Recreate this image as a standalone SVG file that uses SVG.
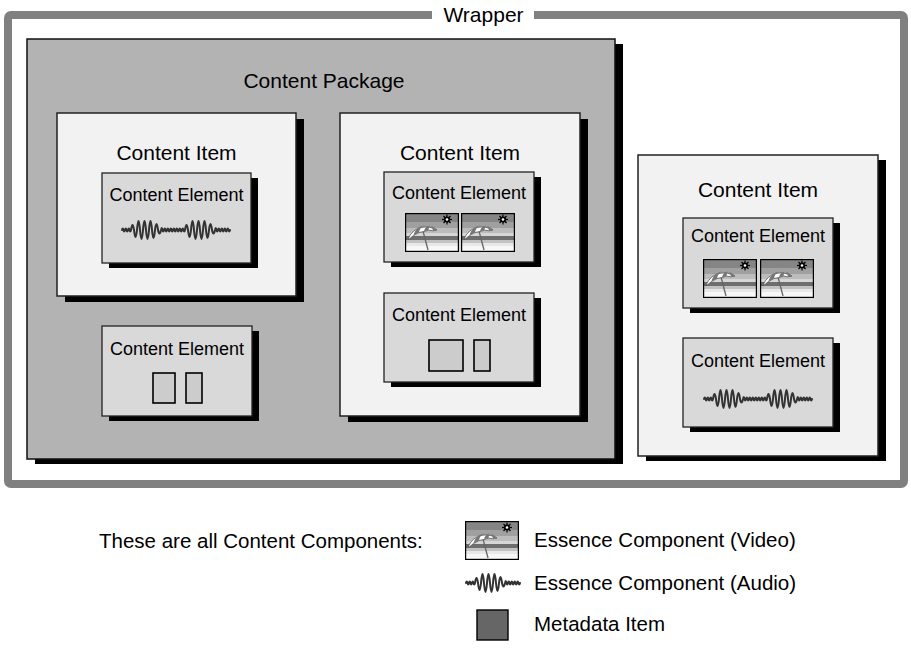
<svg xmlns="http://www.w3.org/2000/svg" xmlns:xlink="http://www.w3.org/1999/xlink" width="911" height="653" viewBox="0 0 911 653">
  <style>
    text { font-family: "Liberation Sans", Arial, Helvetica, sans-serif; fill: #000; }
    .t21 { font-size: 21px; text-anchor: middle; }
    .t18 { font-size: 18px; text-anchor: middle; }
    .leg { font-size: 20.5px; }
    .sh { fill: #000; }
    .pkg { fill: #b3b3b3; stroke: #111; stroke-width: 1.5; }
    .item { fill: #f2f2f2; stroke: #222; stroke-width: 1.5; }
    .elem { fill: #d9d9d9; stroke: #222; stroke-width: 1.3; }
    .meta { fill: #cccccc; stroke: #000; stroke-width: 1.6; }
    .wave { fill: none; stroke: #333; stroke-width: 2; stroke-linejoin: round; stroke-linecap: round; }
  </style>
  <defs>
    <!-- one burst of the audio waveform, 54 wide, centred on y=0 -->
    <path id="burst" class="wave" d="M0,0 q0.75,-3 1.5,0 q0.75,3 1.5,0 q0.75,-3 1.5,0 q0.75,3 1.5,0 q0.75,-3 1.5,0 q0.75,3 1.5,0 q1.5,-10 3,0 q1.5,14 3,0 q1.5,-18 3,0 q1.5,18 3,0 q1.5,-18 3,0 q1.5,18 3,0 q1.5,-18 3,0 q1.5,16 3,0 q1.5,-12 3,0 q1.5,7 3,0 q0.75,-4 1.5,0 q0.75,3 1.5,0 q0.75,-3 1.5,0 q0.75,3 1.5,0 q0.75,-3 1.5,0 q0.75,3 1.5,0 q0.75,-3 1.5,0 q0.75,3 1.5,0 q0.75,-3 1.5,0 q0.75,3 1.5,0"/>
    <!-- two bursts back to back -->
    <path id="wave2" class="wave" d="M0,0 q0.75,-3 1.5,0 q0.75,3 1.5,0 q0.75,-3 1.5,0 q0.75,3 1.5,0 q0.75,-3 1.5,0 q0.75,3 1.5,0 q1.5,-10 3,0 q1.5,14 3,0 q1.5,-18 3,0 q1.5,18 3,0 q1.5,-18 3,0 q1.5,18 3,0 q1.5,-18 3,0 q1.5,16 3,0 q1.5,-12 3,0 q1.5,7 3,0 q0.75,-4 1.5,0 q0.75,3 1.5,0 q0.75,-3 1.5,0 q0.75,3 1.5,0 q0.75,-3 1.5,0 q0.75,3 1.5,0 q0.75,-3 1.5,0 q0.75,3 1.5,0 q0.75,-3 1.5,0 q0.75,3 1.5,0 q0.75,-3 1.5,0 q0.75,3 1.5,0 q0.75,-3 1.5,0 q0.75,3 1.5,0 q0.75,-3 1.5,0 q0.75,3 1.5,0 q1.5,-10 3,0 q1.5,14 3,0 q1.5,-18 3,0 q1.5,18 3,0 q1.5,-18 3,0 q1.5,18 3,0 q1.5,-18 3,0 q1.5,16 3,0 q1.5,-12 3,0 q1.5,7 3,0 q0.75,-4 1.5,0 q0.75,3 1.5,0 q0.75,-3 1.5,0 q0.75,3 1.5,0 q0.75,-3 1.5,0 q0.75,3 1.5,0 q0.75,-3 1.5,0 q0.75,3 1.5,0 q0.75,-3 1.5,0 q0.75,3 1.5,0"/>
    <!-- beach picture used for video essence -->
    <g id="video">
      <rect x="0" y="0" width="54" height="39" fill="#f4f4f4"/>
      <rect x="0" y="0" width="54" height="9" fill="#858585"/>
      <rect x="0" y="9" width="54" height="6" fill="#a0a0a0"/>
      <rect x="0" y="15" width="54" height="5" fill="#bcbcbc"/>
      <rect x="0" y="20" width="54" height="3" fill="#d6d6d6"/>
      <rect x="0" y="23" width="54" height="4" fill="#6e6e6e"/>
      <rect x="0" y="27" width="54" height="3" fill="#c2c2c2"/>
      <rect x="0" y="30" width="54" height="3" fill="#e8e8e8"/>
      <rect x="0" y="33" width="54" height="6" fill="#f7f7f7"/>
      <!-- sun -->
      <g stroke="#000" stroke-width="1.2">
        <line x1="37" y1="6.5" x2="47" y2="6.5"/>
        <line x1="42" y1="1.5" x2="42" y2="11.5"/>
        <line x1="38.5" y1="3" x2="45.5" y2="10"/>
        <line x1="38.5" y1="10" x2="45.5" y2="3"/>
      </g>
      <circle cx="42" cy="6.5" r="3" fill="#000"/>
      <circle cx="42" cy="6.5" r="1.3" fill="#fff"/>
      <!-- umbrella -->
      <line x1="18" y1="18" x2="23" y2="37" stroke="#666" stroke-width="1.3"/>
      <path d="M3,27 C6,16 19,10 32,17 L28,17.8 L23.5,17 L19,18.5 L14,19.5 L8.5,22.5 Z" fill="#fff" stroke="#444" stroke-width="0.7"/>
      <path d="M8.5,22.5 L14,19.5 C14.5,16 16.5,13.5 19,12.5 C13,13.5 9.5,17.5 8.5,22.5 Z" fill="#777"/>
      <path d="M19,18.5 L23.5,17 C24,14.5 24.5,13 24.5,12.5 C21.5,13 19.5,15.5 19,18.5 Z" fill="#777"/>
      <path d="M28,17.8 L32,17 C30,14.5 28,13.5 26,13 C27,14.5 27.8,16 28,17.8 Z" fill="#777"/>
      <rect x="0.6" y="0.6" width="52.8" height="37.8" fill="none" stroke="#000" stroke-width="1.2"/>
    </g>
  </defs>

  <!-- wrapper frame -->
  <g id="wrapper">
    <rect x="8" y="15" width="896" height="469" rx="3" fill="#fff" stroke="#808080" stroke-width="8"/>
    <rect x="432" y="8" width="102" height="14" fill="#fff"/>
    <text class="t21" x="483.5" y="22">Wrapper</text>
  </g>

  <!-- content package -->
  <g id="package">
    <rect class="sh" x="35" y="44" width="588" height="420"/>
    <rect class="pkg" x="27" y="39" width="588" height="420"/>
    <text class="t21" x="324" y="88">Content Package</text>
  </g>

  <!-- content item, left -->
  <g id="item1">
    <rect class="sh" x="65" y="119" width="239" height="183"/>
    <rect class="item" x="57" y="113" width="239" height="183"/>
    <text class="t21" x="176.5" y="160">Content Item</text>
  </g>
  <g id="elem1a">
    <rect class="sh" x="109" y="178" width="149" height="90"/>
    <rect class="elem" x="102" y="173" width="149" height="90"/>
    <text class="t18" x="176.5" y="201">Content Element</text>
    <use xlink:href="#wave2" transform="translate(122,230)"/>
  </g>

  <!-- content element directly in the package -->
  <g id="elem1b">
    <rect class="sh" x="109" y="331" width="150" height="90"/>
    <rect class="elem" x="102" y="326" width="150" height="90"/>
    <text class="t18" x="177" y="355">Content Element</text>
    <rect class="meta" x="153" y="373" width="22" height="30"/>
    <rect class="meta" x="186" y="373" width="16" height="30"/>
  </g>

  <!-- content item, middle -->
  <g id="item2">
    <rect class="sh" x="348" y="119" width="240" height="303"/>
    <rect class="item" x="340" y="113" width="240" height="303"/>
    <text class="t21" x="460" y="160">Content Item</text>
  </g>
  <g id="elem2a">
    <rect class="sh" x="391" y="177" width="150" height="90"/>
    <rect class="elem" x="384" y="172" width="150" height="90"/>
    <text class="t18" x="459" y="199">Content Element</text>
    <use xlink:href="#video" transform="translate(405,213)"/>
    <use xlink:href="#video" transform="translate(461,213)"/>
  </g>
  <g id="elem2b">
    <rect class="sh" x="391" y="298" width="150" height="89"/>
    <rect class="elem" x="384" y="293" width="150" height="89"/>
    <text class="t18" x="459" y="321">Content Element</text>
    <rect class="meta" x="429" y="340" width="34" height="31"/>
    <rect class="meta" x="474" y="340" width="16" height="31"/>
  </g>

  <!-- content item, right (outside the package) -->
  <g id="item3">
    <rect class="sh" x="646" y="160" width="240" height="301"/>
    <rect class="item" x="638" y="155" width="240" height="301"/>
    <text class="t21" x="758" y="197">Content Item</text>
  </g>
  <g id="elem3a">
    <rect class="sh" x="690" y="223" width="150" height="90"/>
    <rect class="elem" x="683" y="218" width="150" height="90"/>
    <text class="t18" x="758" y="242">Content Element</text>
    <use xlink:href="#video" transform="translate(703,259)"/>
    <use xlink:href="#video" transform="translate(760,259)"/>
  </g>
  <g id="elem3b">
    <rect class="sh" x="690" y="343" width="150" height="89"/>
    <rect class="elem" x="683" y="338" width="150" height="89"/>
    <text class="t18" x="758" y="367">Content Element</text>
    <use xlink:href="#wave2" transform="translate(704,399)"/>
  </g>

  <!-- connectors: none in this figure -->
  <g id="connectors"/>

  <!-- key -->
  <g id="legend">
    <text class="leg" x="99" y="548">These are all Content Components:</text>
    <use xlink:href="#video" transform="translate(465,521)"/>
    <text class="leg" x="534" y="547">Essence Component (Video)</text>
    <use xlink:href="#burst" transform="translate(466,583)"/>
    <text class="leg" x="534" y="590">Essence Component (Audio)</text>
    <rect x="477" y="610" width="31" height="30" fill="#666" stroke="#000" stroke-width="1.4"/>
    <text class="leg" x="534" y="631">Metadata Item</text>
  </g>
</svg>
